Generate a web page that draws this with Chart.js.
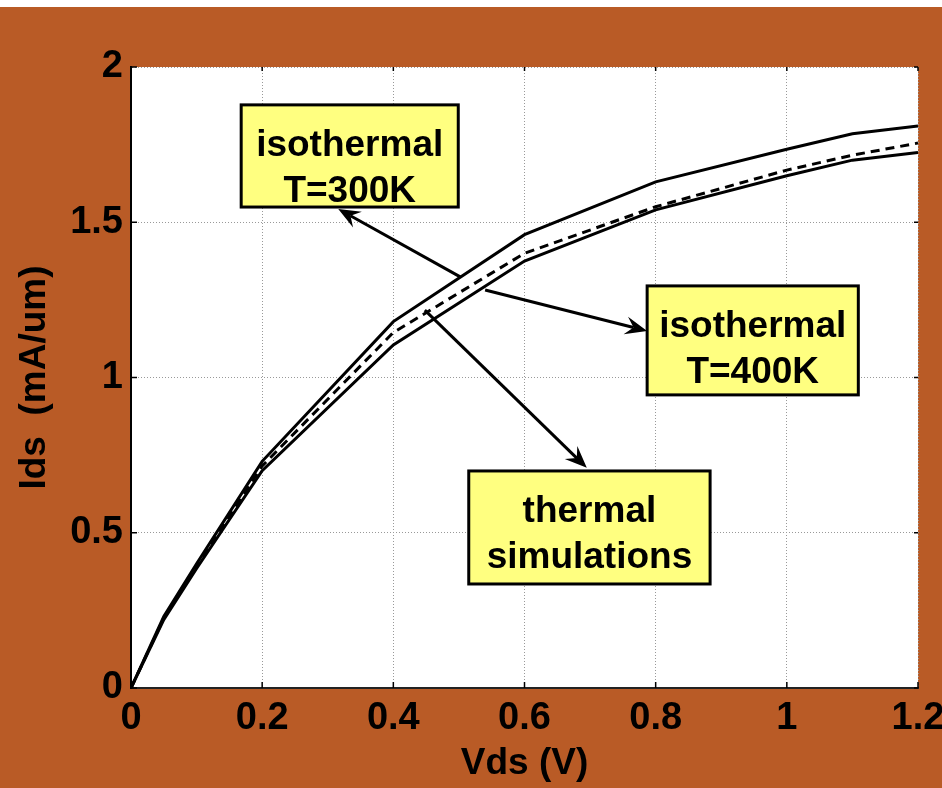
<!DOCTYPE html>
<html>
<head>
<meta charset="utf-8">
<script src="https://cdn.jsdelivr.net/npm/chart.js@4.4.1/dist/chart.umd.min.js"></script>
<style>
html,body{margin:0;padding:0;background:#ffffff;}
#wrap{position:relative;width:942px;height:788px;}
canvas{display:block;}
</style>
</head>
<body>
<div id="wrap"><canvas id="c" width="942" height="788"></canvas></div>
<script>
// ---- data ----
const vds = [0, 0.05, 0.1, 0.2, 0.4, 0.6, 0.8, 1.0, 1.1, 1.2];
const ids300K = [0, 0.23, 0.40, 0.73, 1.18, 1.46, 1.63, 1.735, 1.785, 1.81];
const ids400K = [0, 0.22, 0.385, 0.70, 1.105, 1.375, 1.54, 1.65, 1.70, 1.725];
const idsThermal = [0, 0.225, 0.392, 0.715, 1.145, 1.40, 1.55, 1.668, 1.716, 1.755];
const xTicks = [0, 0.2, 0.4, 0.6, 0.8, 1, 1.2];
const xTickLabels = ['0', '0.2', '0.4', '0.6', '0.8', '1', '1.2'];
const yTicks = [0, 0.5, 1, 1.5, 2];
const yTickLabels = ['0', '0.5', '1', '1.5', '2'];
const xTitle = 'Vds (V)';
const yTitle = 'Ids  (mA/um)';

// annotation boxes (data coordinates) and their texts
const boxTexts = [['isothermal', 'T=300K'], ['isothermal', 'T=400K'], ['thermal', 'simulations']];
const boxX0 = [0.168, 0.787, 0.515];
const boxX1 = [0.499, 1.109, 0.883];
const boxY0 = [1.878, 1.295, 0.699];
const boxY1 = [1.549, 0.944, 0.335];
// arrows (data coordinates): start -> tip
const arrowFromX = [0.502, 0.540, 0.448];
const arrowFromY = [1.324, 1.282, 1.217];
const arrowToX = [0.316, 0.787, 0.695];
const arrowToY = [1.543, 1.150, 0.709];

const ORANGE = '#B95B26';
const FONT = '"Liberation Sans", Arial, sans-serif';

function pts(ys) { return vds.map((x, i) => ({x: x, y: ys[i]})); }

const bgPlugin = {
  id: 'bg',
  beforeDraw(chart) {
    const {ctx, chartArea: a} = chart;
    ctx.save();
    ctx.fillStyle = '#ffffff';
    ctx.fillRect(0, 0, chart.width, chart.height);
    ctx.fillStyle = ORANGE;
    ctx.fillRect(0, 7, chart.width, chart.height - 7);
    ctx.fillStyle = '#ffffff';
    ctx.fillRect(a.left, a.top, a.right - a.left, a.bottom - a.top);
    ctx.restore();
  }
};

function drawArrow(ctx, x0, y0, x1, y1) {
  const ang = Math.atan2(y1 - y0, x1 - x0);
  const L = 22, W = 9, notch = 14;
  ctx.beginPath();
  ctx.moveTo(x0, y0);
  ctx.lineTo(x1 - Math.cos(ang) * notch, y1 - Math.sin(ang) * notch);
  ctx.lineWidth = 3;
  ctx.strokeStyle = '#000';
  ctx.stroke();
  const bx = x1 - Math.cos(ang) * L, by = y1 - Math.sin(ang) * L;
  const nx = -Math.sin(ang), ny = Math.cos(ang);
  const mx = x1 - Math.cos(ang) * notch, my = y1 - Math.sin(ang) * notch;
  ctx.beginPath();
  ctx.moveTo(x1, y1);
  ctx.lineTo(bx + nx * W, by + ny * W);
  ctx.lineTo(mx, my);
  ctx.lineTo(bx - nx * W, by - ny * W);
  ctx.closePath();
  ctx.fillStyle = '#000';
  ctx.fill();
}

// small inward tick marks (MATLAB style) at the axis ticks
const tickPlugin = {
  id: 'inTicks',
  afterDatasetsDraw(chart) {
    const {ctx, chartArea: a} = chart;
    const xs = chart.scales.x, ys = chart.scales.y;
    ctx.save();
    ctx.strokeStyle = '#000';
    ctx.lineWidth = 1.5;
    xTicks.forEach(v => {
      const px = xs.getPixelForValue(v);
      ctx.beginPath(); ctx.moveTo(px, a.bottom); ctx.lineTo(px, a.bottom - 6); ctx.stroke();
      ctx.beginPath(); ctx.moveTo(px, a.top); ctx.lineTo(px, a.top + 4); ctx.stroke();
    });
    yTicks.forEach(v => {
      const py = ys.getPixelForValue(v);
      ctx.beginPath(); ctx.moveTo(a.left, py); ctx.lineTo(a.left + 6, py); ctx.stroke();
      ctx.beginPath(); ctx.moveTo(a.right, py); ctx.lineTo(a.right - 4, py); ctx.stroke();
    });
    ctx.restore();
  }
};

const annoPlugin = {
  id: 'anno',
  afterDatasetsDraw(chart) {
    const {ctx} = chart;
    const xs = chart.scales.x, ys = chart.scales.y;
    ctx.save();
    for (let i = 0; i < arrowFromX.length; i++) {
      drawArrow(ctx, xs.getPixelForValue(arrowFromX[i]), ys.getPixelForValue(arrowFromY[i]),
                xs.getPixelForValue(arrowToX[i]), ys.getPixelForValue(arrowToY[i]));
    }
    for (let i = 0; i < boxTexts.length; i++) {
      const l = xs.getPixelForValue(boxX0[i]), r = xs.getPixelForValue(boxX1[i]);
      const t = ys.getPixelForValue(boxY0[i]), b = ys.getPixelForValue(boxY1[i]);
      ctx.fillStyle = '#FFFF80';
      ctx.fillRect(l, t, r - l, b - t);
      ctx.lineWidth = 3;
      ctx.strokeStyle = '#000';
      ctx.strokeRect(l, t, r - l, b - t);
      ctx.fillStyle = '#000';
      ctx.font = 'bold 37px ' + FONT;
      ctx.textAlign = 'center';
      ctx.textBaseline = 'alphabetic';
      const cx = (l + r) / 2;
      ctx.fillText(boxTexts[i][0], cx, t + 51);
      ctx.fillText(boxTexts[i][1], cx, t + 97);
    }
    ctx.restore();
  }
};

Chart.defaults.font.family = FONT;
Chart.defaults.color = '#000';

new Chart(document.getElementById('c'), {
  type: 'line',
  data: {
    datasets: [
      {label: 'isothermal T=300K', data: pts(ids300K), borderColor: '#000', borderWidth: 3, pointRadius: 0, tension: 0, fill: false},
      {label: 'isothermal T=400K', data: pts(ids400K), borderColor: '#000', borderWidth: 3, pointRadius: 0, tension: 0, fill: false},
      {label: 'thermal simulations', data: pts(idsThermal), borderColor: '#000', borderWidth: 3, borderDash: [9, 6], pointRadius: 0, tension: 0, fill: false}
    ]
  },
  options: {
    responsive: false,
    animation: false,
    devicePixelRatio: 1,
    layout: {padding: {top: 67, right: 24, left: 0, bottom: 0}},
    plugins: {legend: {display: false}, tooltip: {enabled: false}},
    scales: {
      x: {
        type: 'linear', min: 0, max: 1.2,
        afterBuildTicks(s) { s.ticks = xTicks.map(v => ({value: v})); },
        afterFit(s) { s.height = 100; s.paddingLeft = 0; s.paddingRight = 0; },
        ticks: {
          autoSkip: false, maxRotation: 0, padding: 8,
          font: {size: 38, weight: 'bold'}, color: '#000',
          callback(v) { const i = xTicks.indexOf(v); return i >= 0 ? xTickLabels[i] : ''; }
        },
        grid: {color: '#999999', lineWidth: 1, drawTicks: false},
        border: {display: true, color: '#222', width: 2, dash: [1, 2]},
        title: {display: true, text: xTitle, font: {size: 37, weight: 'bold'}, color: '#000', padding: {top: 0, bottom: 2}}
      },
      y: {
        type: 'linear', min: 0, max: 2,
        afterBuildTicks(s) { s.ticks = yTicks.map(v => ({value: v})); },
        afterFit(s) { s.width = 131; s.paddingTop = 0; s.paddingBottom = 0; },
        ticks: {
          autoSkip: false, padding: 8,
          font: {size: 38, weight: 'bold'}, color: '#000',
          callback(v) { const i = yTicks.indexOf(v); return i >= 0 ? yTickLabels[i] : ''; }
        },
        grid: {color: '#999999', lineWidth: 1, drawTicks: false},
        border: {display: true, color: '#000', width: 2, dash: [1, 2]},
        title: {display: true, text: yTitle, font: {size: 37, weight: 'bold'}, color: '#000', padding: {top: 13, bottom: 0}}
      }
    }
  },
  plugins: [bgPlugin, tickPlugin, annoPlugin]
});
</script>
</body>
</html>
